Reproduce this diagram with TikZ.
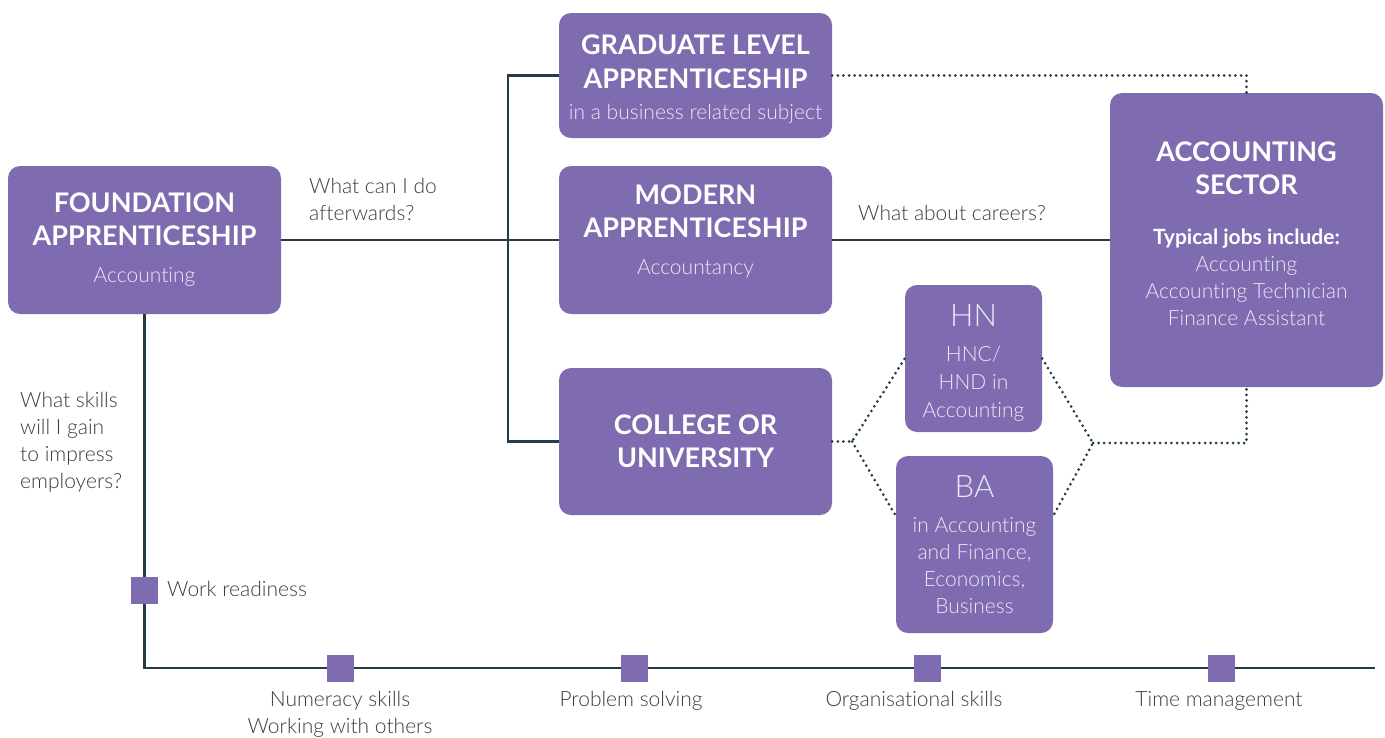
\documentclass[tikz,border=0pt]{standalone}
\usepackage{fontspec}
\setmainfont{Lato}[UprightFont={* Light},BoldFont={* Bold},UprightFeatures={Ligatures=NoCommon}]
\definecolor{purp}{HTML}{7F6BB0}
\definecolor{lnc}{HTML}{233C47}
\definecolor{txtc}{HTML}{3C3C3C}
\definecolor{soft}{HTML}{ECE8F4}
\newcommand\myhead{\fontsize{27}{33}\selectfont\bfseries\color{white}}
\newcommand\mysub{\fontsize{21}{27}\selectfont\bfseries\color{white}}
\newcommand\mybody{\fontsize{21}{27}\selectfont\color{soft}}
\newcommand\mybig{\fontsize{31}{36}\selectfont\color{soft}}
\begin{document}
\begin{tikzpicture}[x=1pt,y=-1pt,
  box/.style={fill=purp, rounded corners=12pt, inner sep=0pt, align=center, font=\fontsize{21}{27}\selectfont},
  link/.style={draw=lnc, line width=2.6pt},
  dots/.style={draw=lnc, line width=3pt, line cap=round, dash pattern=on 0pt off 5.6pt},
  sq/.style={fill=purp, minimum size=27pt, inner sep=0pt},
  lbl/.style={text=txtc, font=\fontsize{21}{27}\selectfont, inner sep=0pt}]
\useasboundingbox (0,0) rectangle (1385,737);

% boxes
\node[box, minimum width=273pt, minimum height=148pt] (fa) at (144.5,240)
  {{\myhead FOUNDATION}\\[6pt]{\myhead APPRENTICESHIP}\\[10pt]{\mybody Accounting}};
\node[box, minimum width=273pt, minimum height=125pt] (gla) at (695.5,75.5)
  {{}\\[-1pt]{\myhead GRADUATE LEVEL}\\[7pt]{\myhead APPRENTICESHIP}\\[4pt]{\mybody in a business related subject}};
\node[box, minimum width=273pt, minimum height=148pt] (ma) at (695.5,240)
  {{\myhead MODERN}\\[6pt]{\myhead APPRENTICESHIP}\\[10pt]{\mybody Accountancy}\\[-7pt]{}};
\node[box, minimum width=273pt, minimum height=147pt] (cu) at (695.5,441.5)
  {{\myhead COLLEGE OR}\\[6pt]{\myhead UNIVERSITY}};
\node[box, minimum width=273pt, minimum height=294pt] (as) at (1246.5,240)
  {{\myhead ACCOUNTING}\\[6pt]{\myhead SECTOR}\\[23pt]{\mysub Typical jobs include:}\\{\mybody Accounting}\\{\mybody Accounting Technician}\\{\mybody Finance Assistant}\\[-15pt]{}};
\node[box, minimum width=137pt, minimum height=147pt] (hn) at (973.5,358.5)
  {{}\\[3pt]{\mybig HN}\\[8pt]{\mybody HNC/}\\[1pt]{\mybody HND in}\\[1pt]{\mybody Accounting}};
\node[box, minimum width=157pt, minimum height=177pt] (ba) at (974.5,544.5)
  {{\mybig BA}\\[8pt]{\mybody in Accounting}\\{\mybody and Finance,}\\{\mybody Economics,}\\{\mybody Business}};

% solid connectors
\coordinate (tt) at (508,75.5);
\coordinate (tb) at (508,441.5);
\coordinate (corner) at (144.5,668);
\coordinate (lineend) at (1375,668);
\draw[link] (fa.east) -- (ma.west);
\draw[link] (gla.west) -- (tt) -- (tb) -- (cu.west);
\draw[link] (ma.east) -- (as.west);
\draw[link] (fa.south) -- (corner) -- (lineend);

% dotted connectors
\coordinate (lv) at (852,441.5);
\coordinate (rv) at (1093,443);
\draw[dots] (gla.east) -- (gla.east -| as.north) -- (as.north);
\draw[dots] (cu.east) -- (lv) -- (hn.west);
\draw[dots] (lv) -- (ba.160);
\draw[dots] (hn.east) -- (rv) -- (ba.20);
\draw[dots] (rv) -- (rv -| as.south) -- (as.south);

% skill markers
\node[sq] (s0) at (144.5,590) {};
\node[sq] (s1) at (340,668) {};
\node[sq] (s2) at (634,668) {};
\node[sq] (s3) at (927,668) {};
\node[sq] (s4) at (1221,668) {};

% labels
\node[lbl, anchor=west, align=left] (q1) at (309,199) {What can I do\\afterwards?};
\node[lbl, anchor=west] (q2) at (858,213) {What about careers?};
\node[lbl, anchor=west, align=left] (q3) at (20,442) {What skills\\will I gain\\to impress\\employers?};
\node[lbl, anchor=west] (l0) at (167,589) {Work readiness};
\node[lbl, anchor=north, align=center] (l1) at (340,691) {Numeracy skills\\Working with others};
\node[lbl, anchor=north] (l2) at (631,691) {Problem solving};
\node[lbl, anchor=north] (l3) at (914,691) {Organisational skills};
\node[lbl, anchor=north] (l4) at (1219,691) {Time management};
\end{tikzpicture}
\end{document}
